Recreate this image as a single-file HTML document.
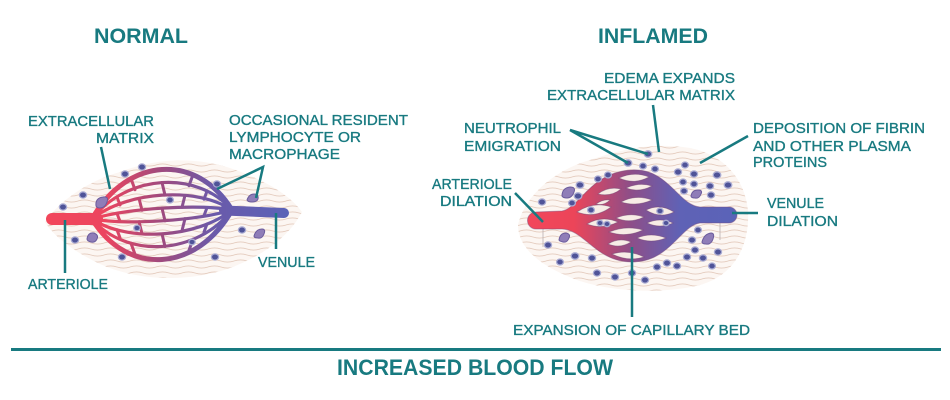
<!DOCTYPE html>
<html><head><meta charset="utf-8"><style>
html,body{margin:0;padding:0;background:#fff;}
svg{display:block;}
text{font-family:"Liberation Sans",Arial,sans-serif;fill:#187a80;}
.lab text{stroke:#187a80;stroke-width:0.35;}
</style></head><body>
<svg width="950" height="400" viewBox="0 0 950 400" xmlns="http://www.w3.org/2000/svg">
<defs>
<pattern id="fib" width="26" height="6" patternUnits="userSpaceOnUse">
<rect width="26" height="6" fill="#fcf6f2"/>
<path d="M0,3 Q6.5,0.8 13,3 T26,3" fill="none" stroke="#e4cbbd" stroke-width="0.9"/>
</pattern>
<linearGradient id="gN" gradientUnits="userSpaceOnUse" x1="46" y1="0" x2="290" y2="0">
<stop offset="0" stop-color="#f2465b"/>
<stop offset="0.24" stop-color="#ec455f"/>
<stop offset="0.47" stop-color="#a04a7e"/>
<stop offset="0.69" stop-color="#6a5aaa"/>
<stop offset="1" stop-color="#5a63b8"/>
</linearGradient>
<linearGradient id="gI" gradientUnits="userSpaceOnUse" x1="528" y1="0" x2="737" y2="0">
<stop offset="0" stop-color="#f2465b"/>
<stop offset="0.22" stop-color="#ec4559"/>
<stop offset="0.49" stop-color="#8e4e88"/>
<stop offset="0.73" stop-color="#5f62b6"/>
<stop offset="1" stop-color="#5a63b8"/>
</linearGradient>
</defs>

<rect width="950" height="400" fill="#fff"/>

<text x="94" y="43" font-size="21" font-weight="bold" textLength="94" lengthAdjust="spacingAndGlyphs">NORMAL</text>
<text x="598" y="43" font-size="21" font-weight="bold" textLength="110" lengthAdjust="spacingAndGlyphs">INFLAMED</text>

<!-- NORMAL -->
<path d="M45,222 C60,200 90,180 120,172 C150,160 190,155 230,168 C265,180 290,195 302,212 C290,235 265,255 230,268 C190,282 140,282 100,264 C75,252 55,238 45,222 Z" fill="url(#fib)"/>

<g fill="none" stroke="url(#gN)" stroke-linecap="round">
<path d="M52,219 L97,219" stroke-width="12"/>
<path d="M224,210.5 L284,213" stroke-width="10"/>
<path d="M92,219 C127,156.75 197,152.25 232,210" stroke-width="5"/>
<path d="M92,219 C127,276.75 197,272.25 232,210" stroke-width="5"/>
<path d="M92,219 C127,174.15 197,169.65 232,210" stroke-width="3.2"/>
<path d="M92,219 C127,190.95 197,186.45 232,210" stroke-width="3.2"/>
<path d="M92,219 C127,208.35 197,203.85 232,210" stroke-width="3.2"/>
<path d="M92,219 C127,225.15 197,220.65 232,210" stroke-width="3.2"/>
<path d="M92,219 C127,242.55 197,238.05 232,210" stroke-width="3.2"/>
<path d="M92,219 C127,259.35 197,254.85 232,210" stroke-width="3.2"/>
<g stroke-width="3">
<path d="M131,178.7 L135,189.7"/><path d="M193,174.7 L189,185.7"/>
<path d="M117,197 L120,205"/><path d="M162,182.5 L165,195.1"/><path d="M207,191.2 L204,199.2"/>
<path d="M139,198.4 L142,210.3"/><path d="M185,195.4 L182,207.3"/>
<path d="M117,213.4 L120,221.4"/><path d="M162,208.2 L165,220.8"/><path d="M207,207.6 L204,215.6"/>
<path d="M139,221.7 L142,233.6"/><path d="M185,218.7 L182,230.6"/>
<path d="M117,229.8 L120,237.8"/><path d="M162,233.9 L165,246.5"/><path d="M207,224 L204,232"/>
<path d="M131,243.3 L135,254.3"/><path d="M193,239.3 L189,250.3"/>
</g>
</g>

<g fill="#4f5398" stroke="#a9abd3" stroke-width="1.3">
<ellipse cx="83" cy="195" rx="3.6" ry="3.1"/>
<ellipse cx="125" cy="174" rx="3.6" ry="3.1"/>
<ellipse cx="142" cy="167" rx="3.6" ry="3.1"/>
<ellipse cx="170" cy="200" rx="3.4" ry="3"/>
<ellipse cx="217" cy="184" rx="3.6" ry="3.1"/>
<ellipse cx="63" cy="207" rx="3.6" ry="3.1"/>
<ellipse cx="75" cy="240" rx="3.6" ry="3.1"/>
<ellipse cx="137" cy="228" rx="3.2" ry="2.8"/>
<ellipse cx="122" cy="257" rx="3.6" ry="3.1"/>
<ellipse cx="192" cy="242" rx="3.2" ry="2.8"/>
<ellipse cx="215" cy="257" rx="3.6" ry="3.1"/>
<ellipse cx="242" cy="230" rx="3.6" ry="3.1"/>
</g>
<g fill="#8f7db8" stroke="#6c5c9c" stroke-width="1">
<path d="M96,206 q-1,-8 7,-9 q6,-1 4,5 q-2,6 -7,6 q-3,0 -4,-2z"/>
<path d="M247,200 q2,-6 7,-6 q5,0 4,5 q-1,3 -6,3 q-4,0 -5,-2z"/>
<path d="M87,239 q1,-7 7,-6 q5,2 3,6 q-2,4 -6,3 q-4,-1 -4,-3z"/>
<path d="M254,236 q2,-7 8,-7 q4,0 2,5 q-2,5 -6,4 q-4,0 -4,-2z"/>
</g>

<g stroke="#187a80" stroke-width="2.5" fill="none">
<path d="M101,147 L110,189"/>
<path d="M217,189 L263,167 L256,198"/>
<path d="M65,220 L65,273"/>
<path d="M276,213 L276,249"/>
</g>

<g class="lab" font-size="15">
<text x="28" y="126" textLength="126" lengthAdjust="spacingAndGlyphs">EXTRACELLULAR</text>
<text x="96" y="143" textLength="58" lengthAdjust="spacingAndGlyphs">MATRIX</text>
<text x="229" y="125" textLength="179" lengthAdjust="spacingAndGlyphs">OCCASIONAL RESIDENT</text>
<text x="229" y="142" textLength="132" lengthAdjust="spacingAndGlyphs">LYMPHOCYTE OR</text>
<text x="229" y="159" textLength="111" lengthAdjust="spacingAndGlyphs">MACROPHAGE</text>
<text x="28" y="289" textLength="80" lengthAdjust="spacingAndGlyphs">ARTERIOLE</text>
<text x="258" y="267" textLength="57" lengthAdjust="spacingAndGlyphs">VENULE</text>
</g>

<!-- INFLAMED -->
<path d="M518,225 C525,195 555,170 590,160 C620,150 650,142 690,148 C725,155 745,180 748,210 C750,245 735,275 700,285 C660,295 600,292 565,275 C535,262 518,245 518,225 Z" fill="url(#fib)"/>
<g stroke="#b9b0b0" stroke-width="0.8">
<path d="M543,222 L543,247"/><path d="M720,218 L720,240"/>
</g>

<path d="M536,212 L562,211 C580,208 590,172 632,170 C668,168 678,205 700,207 L729,207 A8,8 0 0 1 729,223 L700,223 C680,226 670,262 632,262 C596,262 585,230 562,229 L536,229 A8.5,8.5 0 0 1 536,212 Z" fill="url(#gI)" stroke="#7a4a7a" stroke-opacity="0.45" stroke-width="1"/>

<g fill="#f7ede6" stroke="#6e3e6e" stroke-opacity="0.5" stroke-width="0.8">
<path d="M619,178 Q634,171 649,177 Q634,185 619,178 Z"/>
<path d="M598,194 Q608,186 621,189 Q611,197 598,194 Z"/>
<path d="M626,188 Q639,182 652,186 Q639,193 626,188 Z"/>
<path d="M621,202 Q636,194 652,200 Q636,207 621,202 Z"/>
<path d="M577,212 Q593,201 611,207 Q595,219 577,212 Z"/>
<path d="M646,210 Q660,203 674,212 Q660,219 646,210 Z"/>
<path d="M616,218 Q630,212 644,217 Q630,224 616,218 Z"/>
<path d="M587,224 Q602,215 618,222 Q602,230 587,224 Z"/>
<path d="M647,223 Q660,217 673,223 Q660,229 647,223 Z"/>
<path d="M609,232 Q626,225 643,230 Q626,238 609,232 Z"/>
<path d="M637,238 Q651,232 666,238 Q651,244 637,238 Z"/>
<path d="M608,244 Q619,237 631,242 Q620,249 608,244 Z"/>
<path d="M612,254 Q628,249 644,257 Q628,262 612,254 Z"/>
<path d="M596,204 Q603,199 610,200 Q604,206 596,204 Z"/>
</g>

<g fill="#4f5398" stroke="#a9abd3" stroke-width="1.3">
<ellipse cx="648" cy="154" rx="3.8" ry="3.2"/>
<ellipse cx="628" cy="163" rx="3.8" ry="3.2"/>
<ellipse cx="643" cy="166" rx="3.4" ry="3"/>
<ellipse cx="655" cy="169" rx="3.4" ry="3"/>
<ellipse cx="678" cy="172" rx="3.6" ry="3.1"/>
<ellipse cx="685" cy="165" rx="3.4" ry="3"/>
<ellipse cx="694" cy="174" rx="3.6" ry="3.1"/>
<ellipse cx="717" cy="175" rx="3.8" ry="3.2"/>
<ellipse cx="728" cy="185" rx="3.8" ry="3.2"/>
<ellipse cx="683" cy="182" rx="3.4" ry="3"/>
<ellipse cx="694" cy="184" rx="3.4" ry="3"/>
<ellipse cx="710" cy="186" rx="3.6" ry="3.1"/>
<ellipse cx="711" cy="195" rx="3.6" ry="3.1"/>
<ellipse cx="684" cy="191" rx="3.4" ry="3"/>
<ellipse cx="608" cy="175" rx="3.4" ry="3"/>
<ellipse cx="598" cy="179" rx="3.4" ry="3"/>
<ellipse cx="580" cy="185" rx="3.8" ry="3.2"/>
<ellipse cx="578" cy="196" rx="3.8" ry="3.2"/>
<ellipse cx="572" cy="203" rx="3.4" ry="3"/>
<ellipse cx="542" cy="202" rx="3.6" ry="3.1"/>
<ellipse cx="591" cy="210" rx="3.4" ry="3"/>
<ellipse cx="600" cy="223" rx="3" ry="2.7"/>
<ellipse cx="607" cy="224" rx="3" ry="2.7"/>
<ellipse cx="660" cy="211" rx="3.2" ry="2.8"/>
<ellipse cx="666" cy="223" rx="3" ry="2.7"/>
<ellipse cx="548" cy="245" rx="3.6" ry="3.1"/>
<ellipse cx="575" cy="256" rx="3.8" ry="3.2"/>
<ellipse cx="592" cy="258" rx="3.6" ry="3.1"/>
<ellipse cx="597" cy="273" rx="3.6" ry="3.1"/>
<ellipse cx="615" cy="277" rx="3.6" ry="3.1"/>
<ellipse cx="632" cy="273" rx="3.6" ry="3.1"/>
<ellipse cx="645" cy="280" rx="3.6" ry="3.1"/>
<ellipse cx="657" cy="267" rx="3.6" ry="3.1"/>
<ellipse cx="667" cy="263" rx="3.6" ry="3.1"/>
<ellipse cx="677" cy="266" rx="3.6" ry="3.1"/>
<ellipse cx="687" cy="257" rx="3.6" ry="3.1"/>
<ellipse cx="695" cy="250" rx="3.6" ry="3.1"/>
<ellipse cx="692" cy="240" rx="3.6" ry="3.1"/>
<ellipse cx="698" cy="230" rx="3.4" ry="3"/>
<ellipse cx="718" cy="252" rx="3.6" ry="3.1"/>
<ellipse cx="703" cy="258" rx="3.6" ry="3.1"/>
<ellipse cx="712" cy="266" rx="3.4" ry="3"/>
<ellipse cx="560" cy="262" rx="3.4" ry="3"/>
</g>
<g fill="#8f7db8" stroke="#6c5c9c" stroke-width="1">
<path d="M562,196 q0,-8 8,-9 q6,0 4,5 q-2,6 -7,6 q-4,0 -5,-2z"/>
<path d="M559,240 q1,-7 7,-7 q5,1 3,5 q-2,5 -6,4 q-4,-1 -4,-2z"/>
<path d="M691,196 q1,-6 7,-6 q5,0 3,4 q-2,5 -6,4 q-4,0 -4,-2z"/>
<path d="M702,242 q2,-8 9,-9 q4,0 2,6 q-2,6 -7,5 q-4,0 -4,-2z"/>
</g>

<g stroke="#187a80" stroke-width="2.5" fill="none">
<path d="M653,105 L659,152"/>
<path d="M648,154 L570,130 L628,163"/>
<path d="M748,136 L700,163"/>
<path d="M515,193 L543,222"/>
<path d="M732,213 L758,213"/>
<path d="M632,247 L632,317"/>
</g>

<g class="lab" font-size="15">
<text x="604" y="83" textLength="131" lengthAdjust="spacingAndGlyphs">EDEMA EXPANDS</text>
<text x="547" y="100" textLength="188" lengthAdjust="spacingAndGlyphs">EXTRACELLULAR MATRIX</text>
<text x="464" y="133" textLength="97" lengthAdjust="spacingAndGlyphs">NEUTROPHIL</text>
<text x="464" y="151" textLength="97" lengthAdjust="spacingAndGlyphs">EMIGRATION</text>
<text x="753" y="133" textLength="172" lengthAdjust="spacingAndGlyphs">DEPOSITION OF FIBRIN</text>
<text x="753" y="151" textLength="158" lengthAdjust="spacingAndGlyphs">AND OTHER PLASMA</text>
<text x="753" y="167" textLength="74" lengthAdjust="spacingAndGlyphs">PROTEINS</text>
<text x="432" y="189" textLength="80" lengthAdjust="spacingAndGlyphs">ARTERIOLE</text>
<text x="440" y="206" textLength="72" lengthAdjust="spacingAndGlyphs">DILATION</text>
<text x="767" y="208" textLength="57" lengthAdjust="spacingAndGlyphs">VENULE</text>
<text x="767" y="226" textLength="71" lengthAdjust="spacingAndGlyphs">DILATION</text>
<text x="513" y="335" textLength="237" lengthAdjust="spacingAndGlyphs">EXPANSION OF CAPILLARY BED</text>
</g>

<rect x="11" y="348" width="930" height="3" fill="#187a80"/>
<text x="337" y="375" font-size="22" font-weight="bold" textLength="276" lengthAdjust="spacingAndGlyphs">INCREASED BLOOD FLOW</text>
</svg>
</body></html>
